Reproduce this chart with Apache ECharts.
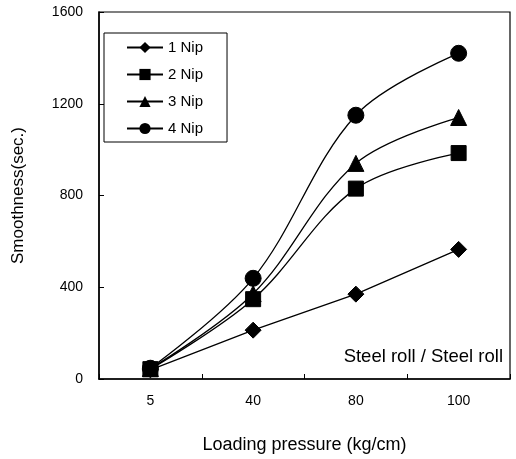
<!DOCTYPE html>
<html>
<head>
<meta charset="utf-8">
<script src="https://cdn.jsdelivr.net/npm/echarts@6/dist/echarts.min.js"></script>
<style>html,body{margin:0;padding:0;background:#fff}#c{width:516px;height:459px}</style>
</head>
<body>
<div id="c"></div>
<script>
const categories = ['5', '40', '80', '100'];
const nip1 = [40, 213, 370, 565];
const nip2 = [43, 348, 830, 985];
const nip3 = [45, 372, 940, 1140];
const nip4 = [47, 439, 1150, 1420];
const seriesNames = ['1 Nip', '2 Nip', '3 Nip', '4 Nip'];
const yTicks = [0, 400, 800, 1200, 1600];

const FONT = '"Liberation Sans", Arial, sans-serif';
const chart = echarts.init(document.getElementById('c'), null, {renderer: 'canvas'});

function mk(name, data, symbol, size, smooth, z) {
  return {
    name: name, type: 'line', data: data, symbol: symbol, symbolSize: size,
    smooth: smooth,
    lineStyle: {color: '#000', width: 1.3},
    itemStyle: {color: '#000', borderColor: '#000'},
    z: z
  };
}

chart.setOption({
  animation: false,
  backgroundColor: '#fff',
  textStyle: {fontFamily: FONT, color: '#000'},
  grid: {left: 99, right: 6, top: 12, bottom: 79, show: true, borderColor: '#000', borderWidth: 1.2},
  legend: {
    orient: 'vertical', left: 104, top: 33,
    data: seriesNames,
    itemWidth: 36, itemHeight: 14, itemGap: 12,
    padding: [7, 24, 6, 22],
    borderColor: '#000', borderWidth: 1,
    textStyle: {fontFamily: FONT, fontSize: 15, color: '#000'}
  },
  xAxis: {
    type: 'category', data: categories, boundaryGap: true,
    name: 'Loading pressure (kg/cm)', nameLocation: 'middle', nameGap: 57,
    nameTextStyle: {fontFamily: FONT, fontSize: 18, color: '#000'},
    axisLine: {lineStyle: {color: '#000', width: 1.5}},
    axisTick: {show: true, inside: true, length: 5, lineStyle: {color: '#000'}},
    axisLabel: {fontFamily: FONT, fontSize: 14, color: '#000', margin: 15},
    splitLine: {show: false}
  },
  yAxis: {
    type: 'value', min: 0, max: 1600, interval: 400,
    name: 'Smoothness(sec.)', nameLocation: 'middle', nameGap: 72,
    nameTextStyle: {fontFamily: FONT, fontSize: 17, color: '#000'},
    axisLine: {show: true, lineStyle: {color: '#000', width: 1.5}},
    axisTick: {show: true, inside: true, length: 5, lineStyle: {color: '#000'}},
    axisLabel: {fontFamily: FONT, fontSize: 14, color: '#000', margin: 16,
      formatter: function (v) { return yTicks.indexOf(v) >= 0 ? String(v) : ''; }},
    splitLine: {show: false}
  },
  graphic: [{
    type: 'text', right: 13, top: 347,
    style: {text: 'Steel roll / Steel roll', font: '18.5px ' + FONT, fill: '#000'}
  }],
  series: [
    mk(seriesNames[0], nip1, 'diamond', 16, false, 3),
    mk(seriesNames[1], nip2, 'rect', 15, 0.35, 5),
    mk(seriesNames[2], nip3, 'triangle', 16, 0.35, 3),
    mk(seriesNames[3], nip4, 'circle', 16, 0.35, 6)
  ]
});
</script>
</body>
</html>
